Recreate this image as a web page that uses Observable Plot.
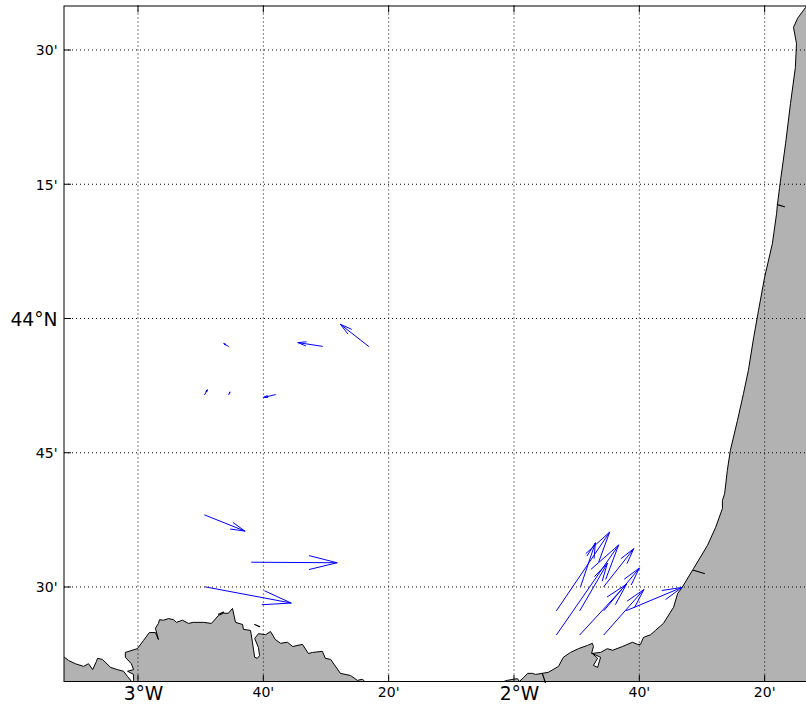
<!DOCTYPE html>
<html>
<head>
<meta charset="utf-8">
<script src="https://cdn.jsdelivr.net/npm/d3@7"></script>
<script src="https://cdn.jsdelivr.net/npm/@observablehq/plot@0.6"></script>
<style>html,body{margin:0;padding:0;background:#fff}svg{display:block}</style>
</head>
<body>
<div id="chart"></div>
<script>
const lonMajor = [-3, -2];
const lonMajorLabels = ["3°W", "2°W"];
const lonMinor = [-8/3, -7/3, -5/3, -4/3];
const lonMinorLabels = ["40'", "20'", "40'", "20'"];
const latMajor = [44];
const latMajorLabels = ["44°N"];
const latMinor = [44.5, 44.25, 43.75, 43.5];
const latMinorLabels = ["30'", "15'", "45'", "30'"];

const coastWest = [[-3.25,43.30],[-3.25,43.371],[-3.197,43.371],[-3.186,43.365],[-3.168,43.359],[-3.146,43.354],[-3.133,43.359],[-3.122,43.348],[-3.112,43.363],[-3.109,43.369],[-3.096,43.367],[-3.074,43.352],[-3.056,43.348],[-3.040,43.345],[-3.029,43.335],[-3.016,43.324],[-3.013,43.328],[-3.013,43.339],[-3.029,43.345],[-3.013,43.348],[-3.019,43.359],[-3.035,43.371],[-3.035,43.380],[-3.003,43.387],[-2.987,43.402],[-2.971,43.417],[-2.955,43.417],[-2.947,43.404],[-2.955,43.425],[-2.947,43.434],[-2.944,43.441],[-2.934,43.440],[-2.920,43.443],[-2.907,43.441],[-2.899,43.436],[-2.883,43.440],[-2.867,43.434],[-2.854,43.436],[-2.827,43.436],[-2.806,43.434],[-2.787,43.449],[-2.774,43.453],[-2.761,43.453],[-2.750,43.462],[-2.742,43.436],[-2.723,43.432],[-2.721,43.423],[-2.702,43.421],[-2.697,43.399],[-2.691,43.371],[-2.684,43.369],[-2.678,43.374],[-2.681,43.389],[-2.691,43.406],[-2.681,43.415],[-2.662,43.413],[-2.649,43.419],[-2.636,43.404],[-2.622,43.397],[-2.604,43.399],[-2.590,43.391],[-2.564,43.395],[-2.548,43.378],[-2.537,43.380],[-2.511,43.382],[-2.503,43.369],[-2.489,43.367],[-2.463,43.341],[-2.436,43.337],[-2.418,43.328],[-2.404,43.330],[-2.396,43.324],[-2.39,43.30]];
const coastEast = [[-2.05,43.30],[-2.037,43.324],[-2.019,43.328],[-2.003,43.330],[-1.992,43.331],[-1.987,43.326],[-1.976,43.333],[-1.965,43.341],[-1.952,43.341],[-1.944,43.339],[-1.926,43.341],[-1.910,43.343],[-1.883,43.354],[-1.870,43.371],[-1.851,43.380],[-1.830,43.387],[-1.806,43.393],[-1.793,43.397],[-1.790,43.391],[-1.795,43.378],[-1.771,43.380],[-1.753,43.387],[-1.739,43.384],[-1.713,43.391],[-1.686,43.399],[-1.673,43.395],[-1.665,43.395],[-1.657,43.408],[-1.638,43.413],[-1.625,43.421],[-1.604,43.434],[-1.577,43.464],[-1.566,43.490],[-1.556,43.499],[-1.524,43.536],[-1.487,43.579],[-1.465,43.613],[-1.447,43.648],[-1.447,43.663],[-1.441,43.676],[-1.434,43.719],[-1.426,43.756],[-1.407,43.812],[-1.391,43.862],[-1.378,43.905],[-1.364,43.966],[-1.351,44.017],[-1.335,44.078],[-1.314,44.142],[-1.303,44.197],[-1.301,44.212],[-1.295,44.246],[-1.279,44.328],[-1.266,44.402],[-1.253,44.469],[-1.250,44.514],[-1.258,44.544],[-1.247,44.561],[-1.226,44.581],[-1.21,44.60],[-1.18,44.60],[-1.18,43.30]];
const estuary = [[-1.793,43.378],[-1.771,43.371],[-1.779,43.352],[-1.790,43.356],[-1.779,43.369],[-1.793,43.378]];
const riverLines = [
  [[-1.524,43.533],[-1.495,43.527]],
  [[-1.301,44.214],[-1.282,44.210]],
  [[-2.691,43.432],[-2.678,43.428]],
  [[-1.926,43.341],[-1.918,43.324]],
  [[-2.787,43.451],[-2.774,43.455]]
];

const arrowLon0 = [-2.824,-2.699,-2.822,-2.388,-2.511,-2.761,-2.824,-2.760,-2.636,-1.888,-1.826,-1.762,-1.702,-1.888,-1.826,-1.762,-1.824,-1.762];
const arrowLat0 = [43.636,43.548,43.502,43.950,43.950,43.950,43.860,43.860,43.860,43.458,43.458,43.458,43.458,43.413,43.413,43.413,43.503,43.503];
const arrowLon1 = [-2.717,-2.472,-2.594,-2.463,-2.576,-2.773,-2.817,-2.757,-2.667,-1.747,-1.753,-1.668,-1.555,-1.723,-1.702,-1.656,-1.785,-1.683];
const arrowLat1 = [43.606,43.547,43.472,43.991,43.957,43.955,43.869,43.865,43.855,43.604,43.546,43.537,43.501,43.580,43.507,43.497,43.584,43.573];

const W = 806, H = 708, mL = 64, mT = 5.5, mB = 26, mR = 0;
const plotH = H - mT - mB, plotW = W - mL - mR;
const allLon = [...lonMajor, ...lonMinor], allLat = [...latMajor, ...latMinor];
const fmt = (vals, labels) => v => labels[vals.indexOf(v)];
const arrows = arrowLon0.map((_, i) => i);
const tickLen = 7;

const chart = Plot.plot({
  width: W, height: H,
  marginLeft: mL, marginTop: mT, marginBottom: mB, marginRight: mR,
  style: {fontFamily: "'DejaVu Sans'", background: "#fff", color: "#000"},
  x: {domain: [-3.1968, -1.2234]},
  y: {domain: [43.324, 44.5838]},
  marks: [
    Plot.line(coastWest, {x: d => d[0], y: d => d[1], fill: "#b2b2b2", stroke: "#000", strokeWidth: 1, clip: "frame"}),
    Plot.line(coastEast, {x: d => d[0], y: d => d[1], fill: "#b2b2b2", stroke: "#000", strokeWidth: 1, clip: "frame"}),
    Plot.line(estuary, {x: d => d[0], y: d => d[1], fill: "#fff", stroke: "#000", strokeWidth: 1}),
    ...riverLines.map(r => Plot.line(r, {x: d => d[0], y: d => d[1], stroke: "#000", strokeWidth: 1.2})),
    Plot.ruleX(allLon, {stroke: "#000", strokeWidth: 1, strokeDasharray: "1,3", dx: -0.5}),
    Plot.ruleY(allLat, {stroke: "#000", strokeWidth: 1, strokeDasharray: "1,3", dy: -1}),
    Plot.arrow(arrows, {
      x1: i => arrowLon0[i], y1: i => arrowLat0[i],
      x2: i => arrowLon1[i], y2: i => arrowLat1[i],
      stroke: "#0000ff", strokeWidth: 1, headAngle: 28, headLength: 1000, inset: 0
    }),
    Plot.ruleX(allLon, {stroke: "#000", strokeWidth: 1, insetTop: plotH - tickLen, dx: -0.5}),
    Plot.ruleX(allLon, {stroke: "#000", strokeWidth: 1, insetBottom: plotH - tickLen, dx: -0.5}),
    Plot.ruleY(allLat, {stroke: "#000", strokeWidth: 1, insetRight: plotW - tickLen, dy: -1}),
    Plot.axisX(lonMajor, {anchor: "bottom", tickSize: 0, tickPadding: 4, fontSize: 18.7, label: null, dx: 5, tickFormat: fmt(lonMajor, lonMajorLabels)}),
    Plot.axisX(lonMinor, {anchor: "bottom", tickSize: 0, tickPadding: 5, fontSize: 14, label: null, dx: -0.5, tickFormat: fmt(lonMinor, lonMinorLabels)}),
    Plot.axisY(latMajor, {anchor: "left", tickSize: 0, tickPadding: 7, fontSize: 18.7, label: null, dy: 0.5, tickFormat: fmt(latMajor, latMajorLabels)}),
    Plot.axisY(latMinor, {anchor: "left", tickSize: 0, tickPadding: 7, fontSize: 14, label: null, dy: 0, tickFormat: fmt(latMinor, latMinorLabels)}),
    Plot.frame({stroke: "#000", strokeWidth: 1, insetLeft: -0.5, insetBottom: 1})
  ]
});
document.getElementById("chart").appendChild(chart);
</script>
</body>
</html>
